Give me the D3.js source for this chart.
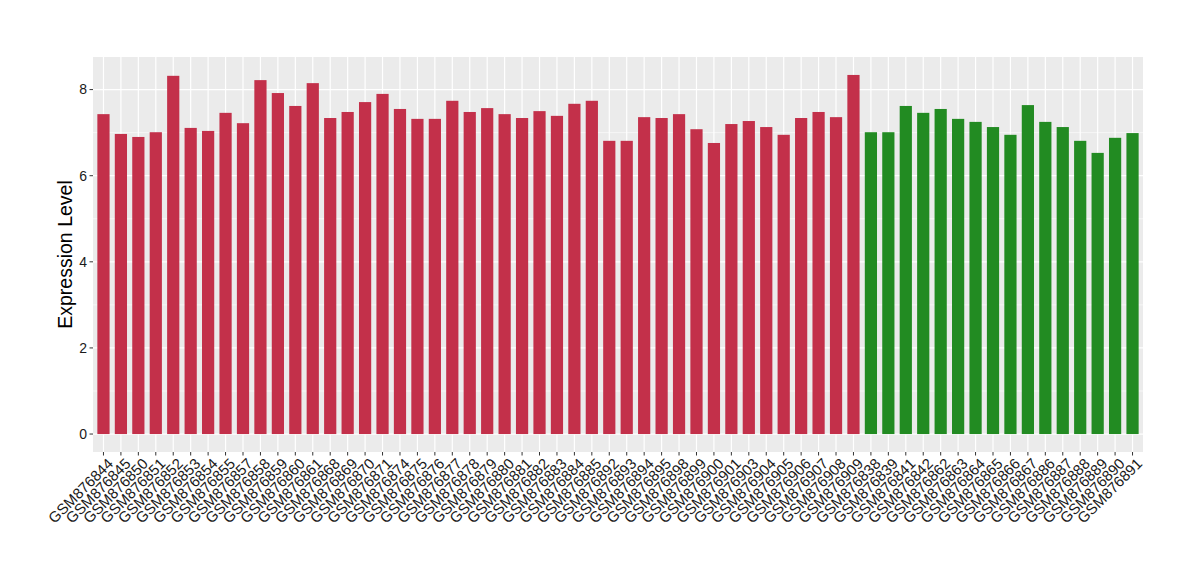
<!DOCTYPE html>
<html><head><meta charset="utf-8">
<script src="https://cdn.jsdelivr.net/npm/d3@7"></script>
<style>body{margin:0;background:#fff}svg{display:block}text{font-family:"Liberation Sans",Arial,sans-serif}</style>
</head><body><svg id="c" width="1200" height="580"></svg>
<script>
const redSamples = ["GSM876844","GSM876845","GSM876850","GSM876851","GSM876852","GSM876853","GSM876854","GSM876855","GSM876857","GSM876858","GSM876859","GSM876860","GSM876861","GSM876868","GSM876869","GSM876870","GSM876871","GSM876874","GSM876875","GSM876876","GSM876877","GSM876878","GSM876879","GSM876880","GSM876881","GSM876882","GSM876883","GSM876884","GSM876885","GSM876892","GSM876893","GSM876894","GSM876895","GSM876898","GSM876899","GSM876900","GSM876901","GSM876903","GSM876904","GSM876905","GSM876906","GSM876907","GSM876908","GSM876909"];
const redValues = [7.43,6.97,6.90,7.01,8.32,7.11,7.04,7.46,7.22,8.22,7.92,7.62,8.15,7.34,7.48,7.71,7.90,7.55,7.32,7.32,7.74,7.48,7.57,7.43,7.34,7.50,7.39,7.67,7.74,6.81,6.81,7.36,7.34,7.43,7.08,6.76,7.20,7.27,7.13,6.95,7.34,7.48,7.36,8.34];
const greenSamples = ["GSM876838","GSM876839","GSM876841","GSM876842","GSM876862","GSM876863","GSM876864","GSM876865","GSM876866","GSM876867","GSM876886","GSM876887","GSM876888","GSM876889","GSM876890","GSM876891"];
const greenValues = [7.01,7.01,7.62,7.46,7.55,7.32,7.25,7.13,6.95,7.64,7.25,7.13,6.81,6.53,6.88,6.99];
const yTicks = [0,2,4,6,8];
const yMinor = [1,3,5,7];
const yTitle = "Expression Level";
const colors = {red:"#C3304A", green:"#228B22"};

const data = redSamples.map((s,i)=>({s, v:redValues[i], g:"red"}))
  .concat(greenSamples.map((s,i)=>({s, v:greenValues[i], g:"green"})));

const L=93, R=1143, T=57, B=452;
const svg = d3.select("#c");
const x = d3.scaleBand().domain(data.map(d=>d.s)).range([L,R]).paddingInner(0.3).paddingOuter(0.25);
const maxV = d3.max(data,d=>d.v);
const y = d3.scaleLinear().domain([-maxV*0.05, maxV*1.05]).range([B,T]);

svg.append("rect").attr("x",L).attr("y",T).attr("width",R-L).attr("height",B-T).attr("fill","#EBEBEB");
const g = svg.append("g");
yMinor.forEach(t=>g.append("line").attr("x1",L).attr("x2",R).attr("y1",y(t)).attr("y2",y(t)).attr("stroke","#fff").attr("stroke-width",0.6));
yTicks.forEach(t=>g.append("line").attr("x1",L).attr("x2",R).attr("y1",y(t)).attr("y2",y(t)).attr("stroke","#fff").attr("stroke-width",1.2));
data.forEach(d=>{const cx=x(d.s)+x.bandwidth()/2; g.append("line").attr("x1",cx).attr("x2",cx).attr("y1",T).attr("y2",B).attr("stroke","#fff").attr("stroke-width",1.2);});

svg.append("g").selectAll("rect").data(data).join("rect")
  .attr("x",d=>x(d.s)).attr("width",x.bandwidth())
  .attr("y",d=>y(d.v)).attr("height",d=>y(0)-y(d.v))
  .attr("fill",d=>colors[d.g]);

// y axis
const ya = svg.append("g");
yTicks.forEach(t=>{
  ya.append("line").attr("x1",L-3.5).attr("x2",L).attr("y1",y(t)).attr("y2",y(t)).attr("stroke","#333").attr("stroke-width",1);
  ya.append("text").attr("x",L-6).attr("y",y(t)).attr("dy","0.35em").attr("text-anchor","end").attr("font-size",14).attr("fill","#1a1a1a").text(t);
});
// x axis
const xa = svg.append("g");
data.forEach(d=>{
  const cx=x(d.s)+x.bandwidth()/2;
  xa.append("line").attr("x1",cx).attr("x2",cx).attr("y1",B).attr("y2",B+3.5).attr("stroke","#333").attr("stroke-width",1);
  xa.append("text").attr("transform",`translate(${cx+3},${B+5}) rotate(-45)`).attr("dy","0.72em").attr("text-anchor","end").attr("font-size",15).attr("fill","#1a1a1a").text(d.s);
});
svg.append("text").attr("transform",`translate(72,${(T+B)/2}) rotate(-90)`).attr("text-anchor","middle").attr("font-size",19.5).attr("fill","#000").text(yTitle);
</script></body></html>
